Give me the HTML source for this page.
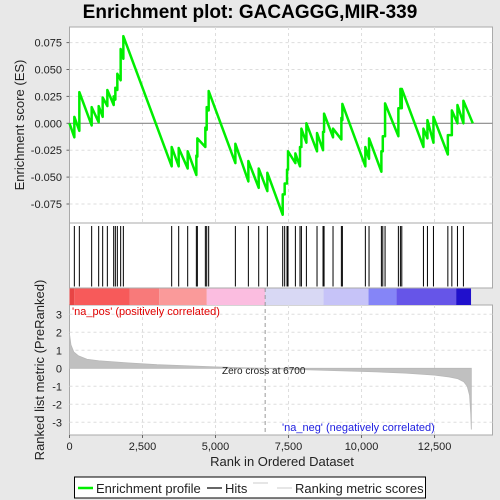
<!DOCTYPE html>
<html><head><meta charset="utf-8"><style>
html,body{margin:0;padding:0;background:#e8e8e8;}
svg{display:block;font-family:"Liberation Sans",sans-serif;}
</style></head><body>
<svg id="chart" width="500" height="500" viewBox="0 0 500 500">
<rect x="0" y="0" width="500" height="500" fill="#e8e8e8"/>
<text x="250" y="18" text-anchor="middle" font-size="19" font-weight="bold" fill="#000">Enrichment plot: GACAGGG,MIR-339</text>
<g id="g"></g>
</svg>
<script>
const hitRanks=[166,337,759,999,1136,1296,1513,1570,1638,1752,1844,3499,3739,4047,4344,4378,4652,4698,4766,5680,6125,6479,6775,7301,7368,7449,7483,7735,7893,7941,8112,8476,8682,8717,9024,9310,9344,10131,10257,10680,10728,10806,11262,11331,11379,12120,12257,12463,12956,13093,13285,13489];
const esLow=[-0.013,-0.007,-0.002,0.001,0.006,0.016,0.017,0.022,0.031,0.040,0.060,-0.040,-0.040,-0.042,-0.048,-0.031,-0.022,-0.006,0.012,-0.037,-0.054,-0.060,-0.063,-0.085,-0.066,-0.056,-0.043,-0.037,-0.040,-0.022,-0.018,-0.026,-0.025,-0.008,-0.013,-0.015,0.003,-0.040,-0.033,-0.045,-0.026,-0.012,-0.012,0.014,0.014,-0.022,-0.014,-0.018,-0.029,-0.011,0.000,0.000];
const esHigh=[0.006,0.029,0.015,0.016,0.024,0.031,0.025,0.033,0.046,0.069,0.081,-0.022,-0.023,-0.026,-0.030,-0.014,-0.004,0.015,0.030,-0.019,-0.035,-0.042,-0.046,-0.066,-0.056,-0.043,-0.026,-0.028,-0.022,-0.005,0.000,-0.009,-0.008,0.009,-0.005,0.005,0.018,-0.022,-0.014,-0.026,-0.012,0.0185,0.014,0.032,0.032,-0.005,0.003,0.006,-0.011,0.012,0.017,0.021];
const esEndRank=13810;
const metricRanks=[0,50,150,300,600,1000,2000,3000,4000,5000,6000,6700,7500,8500,9500,10500,11500,12500,13000,13300,13500,13620,13700,13740,13760];
const metricValues=[1.9,1.3,0.9,0.7,0.5,0.42,0.3,0.2,0.14,0.08,0.03,0,-0.05,-0.1,-0.15,-0.2,-0.27,-0.38,-0.48,-0.58,-0.75,-1.0,-1.5,-2.5,-3.4];
const esTicks=[0.075,0.05,0.025,0,-0.025,-0.05,-0.075];
const esTickLabels=["0.075","0.050","0.025","0.000","-0.025","-0.050","-0.075"];
const metricTicks=[3,2,1,0,-1,-2,-3];
const rankTicks=[0,2500,5000,7500,10000,12500];
const rankTickLabels=["0","2,500","5,000","7,500","10,000","12,500"];
const barColorEnds=[160,2065,3070,4700,6700,8700,10240,11200,13240,13750];
const barColors=["#e84545","#f75a5a","#f87a7a","#fa9a9a","#fbbde0","#d8d8f4","#c6c3f8","#8585f7","#6655e8","#2010cc"];

const NS="http://www.w3.org/2000/svg";
const g=document.getElementById('g');
const L=69.5,R=492.5,XMAX=14485;
function x(r){return L+r/XMAX*(R-L);}
function yES(v){return 123.3-v/0.025*26.9;}
function yM(v){return 368.3-v*18;}
function el(t,a,p){const e=document.createElementNS(NS,t);for(const k in a)e.setAttribute(k,a[k]);(p||g).appendChild(e);return e;}

// panels
let p1=el('rect',{x:L,y:27,width:R-L,height:196,fill:'#fff',stroke:'#aaa'});


let p2=el('rect',{x:L,y:223,width:R-L,height:65,fill:'#fff',stroke:'#aaa'});


let p3=el('rect',{x:L,y:305,width:R-L,height:130,fill:'#fff',stroke:'#aaa'});



// gridlines
rankTicks.forEach(r=>{if(r===0)return;
 el('line',{x1:x(r),x2:x(r),y1:27,y2:223,stroke:'#ddd','stroke-dasharray':'3,3'});
 el('line',{x1:x(r),x2:x(r),y1:305,y2:435,stroke:'#ddd','stroke-dasharray':'3,3'});});
esTicks.forEach((v,i)=>{
 if(v!==0)el('line',{x1:L,x2:R,y1:yES(v),y2:yES(v),stroke:'#ddd','stroke-dasharray':'3,3'});
 let t=el('text',{x:62,y:yES(v)+4,'text-anchor':'end','font-size':11,fill:'#222'});t.textContent=esTickLabels[i];
 
 
 el('line',{x1:L-3,x2:L,y1:yES(v),y2:yES(v),stroke:'#666'});
});
el('line',{x1:L,x2:R,y1:yES(0),y2:yES(0),stroke:'#888','stroke-width':1.2});
metricTicks.forEach(v=>{
 if(v!==0)el('line',{x1:L,x2:R,y1:yM(v),y2:yM(v),stroke:'#ddd','stroke-dasharray':'3,3'});
 let t=el('text',{x:62,y:yM(v)+4,'text-anchor':'end','font-size':11,fill:'#222'});t.textContent=String(v);
 
 
});

// ES curve
let d='M'+x(0)+','+yES(0);
hitRanks.forEach((r,i)=>{d+=' L'+x(r)+','+yES(esLow[i])+' L'+x(r)+','+yES(esHigh[i]);});
d+=' L'+x(esEndRank)+','+yES(0);
let es=el('path',{d:d,fill:'none',stroke:'#00ee00','stroke-width':2.5,'stroke-linejoin':'round'});



// hits
hitRanks.forEach(r=>{let h=el('line',{x1:x(r),x2:x(r),y1:226,y2:286.5,stroke:'#000','stroke-width':1});
 
 });

// color bar
let prev=0;
barColorEnds.forEach((e,i)=>{let b=el('rect',{x:x(prev),y:288.5,width:x(e)-x(prev),height:16.5,fill:barColors[i]});
 
 prev=e;});

// metric area
let md='M'+x(0)+','+yM(0);
metricRanks.forEach((r,i)=>{md+=' L'+x(r)+','+yM(metricValues[i]);});
md+=' L'+x(metricRanks[metricRanks.length-1])+','+yM(0)+' Z';
let ma=el('path',{d:md,fill:'#c0c0c0',stroke:'#b8b8b8','stroke-width':0.8});


el('line',{x1:x(6700),x2:x(6700),y1:288,y2:435,stroke:'#999','stroke-dasharray':'4,3'});

// x ticks
rankTicks.forEach((r,i)=>{el('line',{x1:x(r),x2:x(r),y1:435,y2:438,stroke:'#666'});
 let t=el('text',{x:x(r),y:450,'text-anchor':'middle','font-size':11,fill:'#222'});t.textContent=rankTickLabels[i];
 
 });

function txt(s,a,name){let t=el('text',a);t.textContent=s;return t;}
txt("'na_pos' (positively correlated)",{x:72,y:315,'font-size':11,fill:'#e00000'},'pos-label');
txt("'na_neg' (negatively correlated)",{x:282,y:431,'font-size':11,fill:'#2020e0'},'neg-label');
txt("Zero cross at 6700",{x:222,y:374,'font-size':10,fill:'#222'},'zero-cross-label');
txt("Rank in Ordered Dataset",{x:282,y:466,'text-anchor':'middle','font-size':13,fill:'#222'},'x-axis-title');
txt("Enrichment score (ES)",{x:0,y:0,'text-anchor':'middle','font-size':13,fill:'#222',transform:'translate(24,125) rotate(-90)'},'es-axis-title');
txt("Ranked list metric (PreRanked)",{x:0,y:0,'text-anchor':'middle','font-size':13,fill:'#222',transform:'translate(44,370) rotate(-90)'},'metric-axis-title');

// legend
let lg=el('rect',{x:74.5,y:477,width:351,height:21,fill:'#fff',stroke:'#000'});


el('line',{x1:78,x2:93,y1:488,y2:488,stroke:'#00ee00','stroke-width':2.5});
txt("Enrichment profile",{x:96,y:493,'font-size':13,fill:'#222'},'legend-entry-profile');
el('line',{x1:207,x2:222,y1:488,y2:488,stroke:'#000','stroke-width':1.2});
txt("Hits",{x:225,y:493,'font-size':13,fill:'#222'},'legend-entry-hits');
el('line',{x1:253,x2:268,y1:483,y2:483,stroke:'#ccc'});
el('line',{x1:277,x2:292,y1:488,y2:488,stroke:'#ccc'});
txt("Ranking metric scores",{x:295,y:493,'font-size':13,fill:'#222'},'legend-entry-metric');
</script>
</body></html>
